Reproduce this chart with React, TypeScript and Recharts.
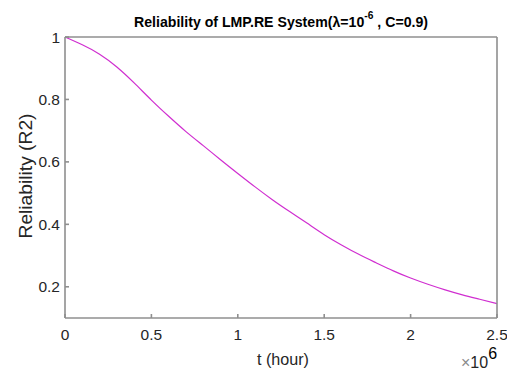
import React from 'react';
import { LineChart, Line, XAxis, YAxis } from 'recharts';

const tHours = [
  0, 100000, 200000, 300000, 400000, 500000, 600000, 700000, 800000, 900000,
  1000000, 1100000, 1200000, 1300000, 1400000, 1500000, 1600000, 1700000, 1800000,
  1900000, 2000000, 2100000, 2200000, 2300000, 2400000, 2500000,
];
const reliability = [
  1.0, 0.975, 0.945, 0.904, 0.853, 0.798, 0.746, 0.697, 0.652, 0.607,
  0.563, 0.52, 0.479, 0.441, 0.404, 0.367, 0.334, 0.304, 0.277,
  0.251, 0.228, 0.208, 0.19, 0.174, 0.16, 0.146,
];
const xTicks = [0, 500000, 1000000, 1500000, 2000000, 2500000];
const yTicks = [0.2, 0.4, 0.6, 0.8, 1];

const data = tHours.map((t, i) => ({ t, r: reliability[i] }));

const FONT = '"Liberation Sans", Arial, Helvetica, sans-serif';
const AXIS = '#8f8f8f';
const TEXT = '#262626';

export default function App() {
  return (
    <div style={{ position: 'absolute', left: 0, top: 0, width: 507, height: 370, background: '#fff' }}>
      <LineChart
        width={507}
        height={370}
        data={data}
        margin={{ top: 36, right: 9, bottom: 0, left: 0 }}
      >
        <XAxis
          xAxisId="b"
          dataKey="t"
          type="number"
          domain={[0, 2500000]}
          ticks={xTicks}
          tickFormatter={(v: number) => String(v / 1000000)}
          height={52}
          tickSize={-4}
          tickMargin={15}
          stroke={AXIS}
          strokeWidth={1.6}
          axisLine
          tickLine
          tick={{ fill: TEXT, fontSize: 15.5, fontFamily: FONT }}
        />
        <XAxis
          xAxisId="t"
          orientation="top"
          dataKey="t"
          type="number"
          domain={[0, 2500000]}
          ticks={xTicks}
          height={1}
          tickSize={-4}
          tick={false}
          stroke={AXIS}
          strokeWidth={1.6}
          axisLine
          tickLine
        />
        <YAxis
          yAxisId="l"
          type="number"
          domain={[0.1, 1]}
          ticks={yTicks}
          width={65}
          tickSize={-4}
          tickMargin={9}
          stroke={AXIS}
          strokeWidth={1.6}
          axisLine
          tickLine
          tick={{ fill: TEXT, fontSize: 15.5, fontFamily: FONT }}
        />
        <YAxis
          yAxisId="r"
          orientation="right"
          type="number"
          domain={[0.1, 1]}
          ticks={yTicks}
          width={1}
          tickSize={-4}
          tick={false}
          stroke={AXIS}
          strokeWidth={1.6}
          axisLine
          tickLine
        />
        <Line
          xAxisId="b"
          yAxisId="l"
          dataKey="r"
          type="natural"
          stroke="#d02ed0"
          strokeWidth={1.2}
          dot={false}
          isAnimationActive={false}
        />
      </LineChart>
      <svg
        width={507}
        height={370}
        style={{ position: 'absolute', left: 0, top: 0, pointerEvents: 'none' }}
      >
        <text
          x={134}
          y={27}
          fontFamily={FONT}
          fontWeight="bold"
          fontSize={14.5}
          fill="#000"
          textLength={294}
          lengthAdjust="spacingAndGlyphs"
        >
          Reliability of LMP.RE System(λ=10
          <tspan dy={-8} fontSize={10.5}>-6</tspan>
          <tspan dy={8}> , C=0.9)</tspan>
        </text>
        <text
          transform="translate(32,176) rotate(-90)"
          textAnchor="middle"
          fontFamily={FONT}
          fontSize={18}
          fill={TEXT}
          textLength={125}
          lengthAdjust="spacingAndGlyphs"
        >
          Reliability (R2)
        </text>
        <text
          x={283}
          y={365}
          textAnchor="middle"
          fontFamily={FONT}
          fontSize={17}
          fill={TEXT}
          textLength={52}
          lengthAdjust="spacingAndGlyphs"
        >
          t (hour)
        </text>
        <text x={461} y={368} fontFamily={FONT} fontSize={16} fill={TEXT}>
          <tspan fill="#8a8a8a">×</tspan>10
          <tspan dy={-9} fill="#000">6</tspan>
        </text>
      </svg>
    </div>
  );
}
